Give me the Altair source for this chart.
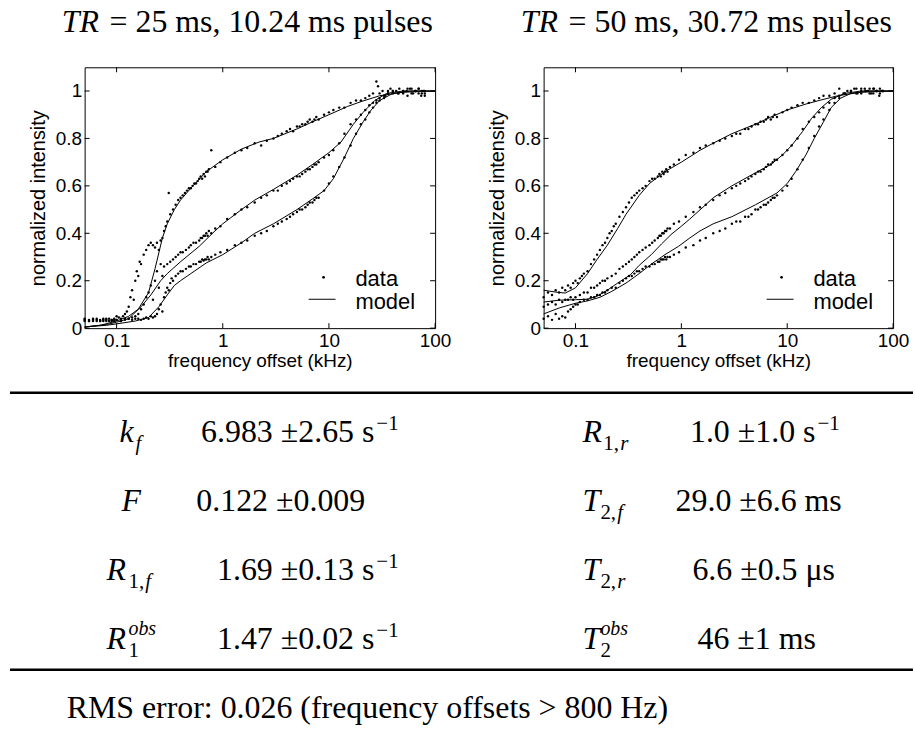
import altair as alt
import pandas as pd

SANS = "Liberation Sans"
SERIF = "Liberation Serif"

# ---------------- data ----------------
X_TICKS = [0.1, 1, 10, 100]
Y_TICKS = [0, 0.2, 0.4, 0.6, 0.8, 1]

# TR = 25 ms panel: measured points (frequency offset kHz, normalized intensity)
L_TOP = [(0.05,0.04),(0.055,0.035),(0.06,0.04),(0.065,0.04),(0.07,0.035),(0.075,0.04),(0.08,0.04),(0.085,0.04),(0.09,0.035),(0.095,0.04),(0.1,0.05),(0.105,0.045),(0.11,0.04),(0.115,0.05),(0.12,0.06),(0.125,0.07),(0.13,0.09),(0.135,0.13),(0.14,0.16),(0.145,0.12),(0.15,0.2),(0.155,0.24),(0.16,0.22),(0.165,0.28),(0.17,0.27),(0.18,0.31),(0.19,0.33),(0.2,0.35),(0.21,0.36),(0.22,0.35),(0.23,0.34),(0.24,0.36),(0.25,0.33),(0.26,0.37),(0.27,0.38),(0.28,0.41),(0.29,0.43),(0.3,0.45),(0.31,0.57),(0.32,0.48),(0.34,0.5),(0.36,0.52),(0.38,0.54),(0.4,0.55),(0.42,0.56),(0.44,0.57),(0.46,0.58),(0.48,0.59),(0.5,0.59),(0.52,0.6),(0.54,0.61),(0.56,0.61),(0.58,0.62),(0.6,0.63),(0.62,0.64),(0.64,0.63),(0.66,0.65),(0.68,0.64),(0.7,0.66),(0.72,0.66),(0.74,0.67),(0.78,0.75),(0.85,0.68),(0.95,0.7),(1.1,0.72),(1.3,0.74),(1.5,0.75),(1.7,0.76),(2.0,0.78),(2.3,0.77),(2.6,0.79),(3.0,0.8),(3.3,0.81),(3.6,0.82),(4.0,0.83),(4.3,0.84),(4.6,0.83),(5.0,0.85),(5.3,0.85),(5.6,0.86),(6.0,0.86),(6.3,0.87),(6.6,0.88),(7.0,0.87),(7.3,0.88),(7.6,0.89),(8.0,0.88),(9.0,0.9),(10,0.91),(11,0.92),(12.5,0.93),(14,0.93),(16,0.95),(18,0.96),(20,0.96),(22,0.97),(24,0.98),(26,0.99),(28,1.04),(29,1.02),(30,0.99),(32,1.0),(34,0.98),(36,1.0),(38,1.01),(40,0.99),(43,1.0),(46,1.01),(50,0.99),(54,1.0),(58,1.01),(62,0.99),(66,1.0),(70,1.01),(74,0.98),(78,1.0),(80,0.99)]
L_MID = [(0.05,0.035),(0.055,0.03),(0.06,0.035),(0.065,0.035),(0.07,0.03),(0.075,0.035),(0.08,0.035),(0.085,0.03),(0.09,0.035),(0.095,0.03),(0.1,0.035),(0.11,0.03),(0.12,0.04),(0.13,0.04),(0.14,0.045),(0.15,0.05),(0.16,0.06),(0.17,0.08),(0.18,0.1),(0.19,0.13),(0.2,0.15),(0.21,0.18),(0.22,0.12),(0.23,0.2),(0.24,0.24),(0.25,0.17),(0.26,0.27),(0.27,0.22),(0.28,0.26),(0.3,0.27),(0.32,0.28),(0.34,0.29),(0.36,0.3),(0.38,0.31),(0.4,0.32),(0.42,0.32),(0.45,0.33),(0.48,0.34),(0.5,0.35),(0.53,0.36),(0.56,0.36),(0.6,0.37),(0.62,0.38),(0.64,0.38),(0.66,0.39),(0.68,0.39),(0.7,0.4),(0.72,0.39),(0.74,0.41),(0.78,0.4),(0.85,0.42),(0.95,0.43),(1.1,0.46),(1.3,0.48),(1.5,0.5),(1.7,0.51),(2.0,0.53),(2.3,0.55),(2.6,0.56),(3.0,0.58),(3.3,0.58),(3.6,0.6),(4.0,0.61),(4.3,0.62),(4.6,0.63),(5.0,0.64),(5.3,0.64),(5.6,0.65),(6.0,0.66),(6.3,0.67),(6.6,0.67),(7.0,0.68),(7.3,0.69),(7.6,0.69),(8.0,0.7),(9.0,0.72),(10,0.73),(11,0.75),(12.5,0.78),(14,0.82),(16,0.86),(18,0.88),(20,0.9),(22,0.92),(24,0.94),(26,0.95),(28,0.96),(30,0.97),(33,0.98),(36,0.99),(40,1.0),(45,0.99),(50,1.0),(55,1.01),(60,0.99),(65,1.0),(70,1.01),(75,0.99),(80,1.0)]
L_BOT = [(0.05,0.03),(0.055,0.03),(0.06,0.03),(0.065,0.03),(0.07,0.03),(0.075,0.03),(0.08,0.03),(0.085,0.03),(0.09,0.03),(0.095,0.035),(0.1,0.035),(0.11,0.03),(0.12,0.035),(0.13,0.04),(0.14,0.035),(0.15,0.04),(0.16,0.04),(0.17,0.035),(0.18,0.04),(0.19,0.045),(0.2,0.04),(0.21,0.05),(0.22,0.045),(0.23,0.05),(0.24,0.06),(0.25,0.08),(0.26,0.1),(0.27,0.07),(0.28,0.13),(0.29,0.15),(0.3,0.17),(0.31,0.16),(0.32,0.19),(0.33,0.21),(0.34,0.2),(0.36,0.22),(0.38,0.23),(0.4,0.24),(0.42,0.24),(0.45,0.25),(0.48,0.26),(0.5,0.26),(0.53,0.27),(0.56,0.27),(0.6,0.28),(0.62,0.28),(0.64,0.29),(0.66,0.285),(0.68,0.29),(0.7,0.29),(0.72,0.3),(0.74,0.29),(0.78,0.3),(0.85,0.31),(0.95,0.32),(1.1,0.33),(1.3,0.35),(1.5,0.36),(1.7,0.37),(2.0,0.39),(2.3,0.4),(2.6,0.41),(3.0,0.43),(3.3,0.44),(3.6,0.45),(4.0,0.46),(4.3,0.47),(4.6,0.48),(5.0,0.49),(5.3,0.5),(5.6,0.5),(6.0,0.51),(6.3,0.52),(6.6,0.53),(7.0,0.53),(7.3,0.54),(7.6,0.55),(8.0,0.55),(9.0,0.58),(10,0.61),(11,0.64),(12.5,0.68),(14,0.72),(16,0.77),(18,0.82),(20,0.86),(22,0.88),(24,0.91),(26,0.93),(28,0.95),(30,0.96),(33,0.97),(36,0.99),(40,1.0),(45,0.99),(50,1.0),(55,0.98),(60,1.01),(65,1.0),(70,0.99),(75,1.0),(80,0.98)]

# TR = 25 ms panel: model curves
L_MODEL_TOP = [(0.05,0.005),(0.07,0.012),(0.1,0.03),(0.13,0.05),(0.16,0.08),(0.2,0.15),(0.23,0.25),(0.27,0.38),(0.3,0.44),(0.35,0.5),(0.4,0.54),(0.5,0.59),(0.7,0.66),(1.0,0.71),(1.5,0.755),(2.2,0.785),(3,0.8),(5,0.84),(7,0.87),(10,0.9),(15,0.935),(20,0.955),(30,0.98),(50,0.995),(100,1.0)]
L_MODEL_MID = [(0.05,0.005),(0.08,0.015),(0.1,0.025),(0.13,0.04),(0.17,0.09),(0.21,0.14),(0.26,0.2),(0.3,0.23),(0.4,0.28),(0.6,0.345),(0.8,0.4),(1.0,0.44),(1.5,0.5),(2.0,0.54),(3,0.585),(5,0.645),(7,0.69),(10,0.74),(13,0.785),(17,0.86),(21,0.91),(27,0.96),(35,0.99),(50,1.0),(100,1.0)]
L_MODEL_BOT = [(0.05,0.005),(0.08,0.012),(0.1,0.018),(0.15,0.03),(0.2,0.045),(0.25,0.09),(0.3,0.14),(0.35,0.18),(0.4,0.2),(0.5,0.23),(0.7,0.275),(1.0,0.31),(1.5,0.36),(2.0,0.4),(3,0.44),(5,0.5),(7,0.545),(9,0.58),(11,0.63),(14,0.72),(17,0.8),(21,0.87),(25,0.92),(30,0.96),(40,0.99),(60,1.0),(100,1.0)]

# TR = 50 ms panel: measured points
R_TOP = [(0.05,0.13),(0.055,0.15),(0.06,0.14),(0.065,0.16),(0.07,0.15),(0.075,0.17),(0.08,0.16),(0.085,0.18),(0.09,0.17),(0.095,0.19),(0.1,0.2),(0.105,0.19),(0.11,0.21),(0.115,0.22),(0.12,0.23),(0.13,0.24),(0.14,0.27),(0.15,0.29),(0.16,0.31),(0.17,0.33),(0.18,0.35),(0.19,0.36),(0.2,0.38),(0.21,0.4),(0.22,0.41),(0.23,0.43),(0.24,0.44),(0.26,0.47),(0.28,0.49),(0.3,0.51),(0.32,0.53),(0.34,0.55),(0.36,0.56),(0.38,0.57),(0.4,0.58),(0.43,0.59),(0.46,0.6),(0.5,0.62),(0.53,0.63),(0.56,0.63),(0.6,0.64),(0.62,0.65),(0.64,0.64),(0.66,0.66),(0.68,0.65),(0.7,0.66),(0.72,0.67),(0.74,0.66),(0.78,0.68),(0.85,0.69),(0.95,0.71),(1.1,0.73),(1.3,0.74),(1.5,0.76),(1.7,0.77),(2.0,0.78),(2.3,0.79),(2.6,0.8),(3.0,0.81),(3.3,0.82),(3.6,0.82),(4.0,0.84),(4.3,0.84),(4.6,0.85),(5.0,0.86),(5.3,0.86),(5.6,0.87),(6.0,0.87),(6.3,0.88),(6.6,0.89),(7.0,0.88),(7.3,0.89),(7.6,0.9),(8.0,0.89),(9.0,0.91),(10,0.92),(11,0.93),(12.5,0.94),(14,0.95),(16,0.95),(18,0.96),(20,0.97),(22,0.98),(25,0.98),(28,0.99),(31,1.01),(34,0.99),(37,1.0),(40,1.0),(43,1.01),(46,0.99),(50,1.0),(54,1.01),(58,1.0),(62,0.99),(66,1.01),(70,1.0),(74,0.98),(78,1.0),(80,1.0)]
R_MID = [(0.05,0.09),(0.055,0.1),(0.06,0.11),(0.065,0.1),(0.07,0.12),(0.075,0.11),(0.08,0.12),(0.085,0.12),(0.09,0.13),(0.095,0.12),(0.1,0.13),(0.11,0.14),(0.12,0.15),(0.13,0.15),(0.14,0.17),(0.15,0.17),(0.16,0.18),(0.17,0.19),(0.18,0.2),(0.19,0.2),(0.2,0.21),(0.22,0.22),(0.24,0.23),(0.26,0.25),(0.28,0.26),(0.3,0.27),(0.32,0.28),(0.34,0.29),(0.36,0.3),(0.38,0.31),(0.4,0.32),(0.43,0.33),(0.46,0.34),(0.5,0.35),(0.53,0.36),(0.56,0.37),(0.6,0.38),(0.62,0.39),(0.64,0.39),(0.66,0.4),(0.68,0.4),(0.7,0.41),(0.72,0.41),(0.74,0.42),(0.78,0.42),(0.85,0.44),(0.95,0.45),(1.1,0.47),(1.3,0.49),(1.5,0.51),(1.7,0.52),(2.0,0.54),(2.3,0.56),(2.6,0.57),(3.0,0.59),(3.3,0.6),(3.6,0.61),(4.0,0.62),(4.3,0.63),(4.6,0.64),(5.0,0.65),(5.3,0.66),(5.6,0.66),(6.0,0.67),(6.3,0.68),(6.6,0.69),(7.0,0.69),(7.3,0.7),(7.6,0.71),(8.0,0.71),(9.0,0.73),(10,0.75),(11,0.77),(12.5,0.8),(14,0.84),(16,0.87),(18,0.89),(20,0.91),(22,0.93),(25,0.95),(28,0.97),(31,0.98),(35,0.99),(40,1.0),(45,1.01),(50,0.99),(55,1.0),(60,1.01),(65,0.99),(70,1.0),(75,1.01),(80,1.0)]
R_BOT = [(0.05,0.04),(0.055,0.05),(0.06,0.035),(0.065,0.06),(0.07,0.04),(0.075,0.05),(0.08,0.045),(0.085,0.07),(0.09,0.08),(0.095,0.09),(0.1,0.1),(0.105,0.1),(0.11,0.11),(0.12,0.12),(0.13,0.12),(0.14,0.13),(0.15,0.13),(0.16,0.14),(0.17,0.14),(0.18,0.15),(0.19,0.15),(0.2,0.16),(0.22,0.17),(0.24,0.17),(0.26,0.19),(0.28,0.2),(0.3,0.21),(0.32,0.22),(0.34,0.22),(0.36,0.23),(0.38,0.24),(0.4,0.24),(0.43,0.25),(0.46,0.26),(0.5,0.26),(0.53,0.27),(0.56,0.27),(0.6,0.28),(0.62,0.28),(0.64,0.29),(0.66,0.29),(0.68,0.29),(0.7,0.3),(0.72,0.29),(0.74,0.3),(0.78,0.3),(0.85,0.31),(0.95,0.32),(1.1,0.34),(1.3,0.35),(1.5,0.37),(1.7,0.38),(2.0,0.4),(2.3,0.41),(2.6,0.42),(3.0,0.44),(3.3,0.45),(3.6,0.45),(4.0,0.47),(4.3,0.47),(4.6,0.48),(5.0,0.5),(5.3,0.5),(5.6,0.51),(6.0,0.52),(6.3,0.52),(6.6,0.53),(7.0,0.54),(7.3,0.55),(7.6,0.55),(8.0,0.56),(9.0,0.58),(10,0.6),(11,0.63),(12.5,0.67),(14,0.71),(16,0.76),(18,0.81),(20,0.85),(22,0.88),(25,0.92),(28,0.95),(31,0.97),(35,0.99),(40,1.0),(45,0.99),(50,1.01),(55,1.0),(60,0.99),(65,1.01),(70,1.0),(75,0.99),(80,1.0)]

# TR = 50 ms panel: model curves
R_MODEL_TOP = [(0.05,0.16),(0.065,0.152),(0.08,0.148),(0.1,0.17),(0.13,0.23),(0.16,0.29),(0.2,0.35),(0.25,0.42),(0.3,0.48),(0.4,0.56),(0.5,0.61),(0.7,0.66),(1.0,0.7),(1.5,0.75),(2.0,0.78),(3.0,0.82),(5,0.86),(7,0.89),(10,0.92),(15,0.945),(20,0.96),(30,0.98),(50,0.995),(100,1.0)]
R_MODEL_MID = [(0.05,0.11),(0.07,0.118),(0.1,0.12),(0.13,0.122),(0.16,0.135),(0.2,0.16),(0.25,0.19),(0.33,0.225),(0.4,0.265),(0.52,0.31),(0.65,0.355),(0.8,0.395),(1.0,0.43),(1.2,0.46),(1.6,0.51),(2.0,0.55),(3,0.6),(5,0.655),(7,0.69),(9,0.73),(11,0.77),(14,0.83),(17,0.885),(21,0.93),(26,0.965),(35,0.99),(50,1.0),(100,1.0)]
R_MODEL_BOT = [(0.05,0.06),(0.07,0.085),(0.1,0.105),(0.13,0.115),(0.17,0.13),(0.22,0.155),(0.3,0.19),(0.4,0.23),(0.52,0.27),(0.7,0.31),(0.94,0.345),(1.2,0.38),(1.5,0.41),(2.0,0.44),(3.0,0.47),(5,0.52),(8,0.57),(10,0.61),(12,0.66),(15,0.73),(18,0.8),(22,0.87),(26,0.93),(32,0.97),(40,0.99),(60,1.0),(100,1.0)]

TITLE_LEFT = ("TR", "= 25 ms, 10.24 ms pulses")
TITLE_RIGHT = ("TR", "= 50 ms, 30.72 ms pulses")
LEGEND_LABELS = ["data", "model"]

# fitted-parameter table
LEFT_SYM = ["k", "F", "R", "R"]
LEFT_SUBNUM = ["", "", "1,", "1"]
LEFT_SUBLET = ["f", "", "f", ""]
LEFT_SUP = ["", "", "", "obs"]
LEFT_VAL = ["6.983 ±2.65 s", "0.122 ±0.009", "1.69 ±0.13 s", "1.47 ±0.02 s"]
LEFT_EXP = ["−1", "", "−1", "−1"]
RIGHT_SYM = ["R", "T", "T", "T"]
RIGHT_SUBNUM = ["1,", "2,", "2,", "2"]
RIGHT_SUBLET = ["r", "f", "r", ""]
RIGHT_SUP = ["", "", "", "obs"]
RIGHT_VAL = ["1.0 ±1.0 s", "29.0 ±6.6 ms", "6.6 ±0.5 μs", "46 ±1 ms"]
RIGHT_EXP = ["−1", "", "", ""]
FOOTNOTE = "RMS error: 0.026 (frequency offsets > 800 Hz)"

# ---------------- layout (pixels) ----------------
H = 262
W_L, W_R = 352, 351


def to_df(sets):
    rows = []
    for name, lst in sets:
        for f, v in lst:
            rows.append({"series": name, "f": f, "v": v})
    return pd.DataFrame(rows)


def text_layer(txt, x, y, **kw):
    base = dict(baseline="alphabetic", color="black", align="left")
    base.update(kw)
    return alt.Chart(pd.DataFrame({"t": [txt]})).mark_text(**base).encode(
        text="t:N", x=alt.value(x), y=alt.value(y))


def panel(data_sets, model_sets, title, width):
    xs = alt.Scale(type="log", domain=[0.05, 100], nice=False)
    ys = alt.Scale(domain=[0, 1.1], nice=False, zero=False)
    xax = alt.Axis(values=X_TICKS, format="~g", title="frequency offset (kHz)",
                   ticks=False, domain=False, grid=False, labelFontSize=19,
                   labelPadding=3, labelFlush=False, labelOverlap=False,
                   labelFont=SANS, labelColor="black", titleFont=SANS,
                   titleFontSize=19, titleFontWeight="normal", titleColor="black",
                   titlePadding=2)
    yax = alt.Axis(values=Y_TICKS, format="~g", title="normalized intensity",
                   ticks=False, domain=False, grid=False, labelFontSize=19,
                   labelPadding=3, labelFlush=False, labelOverlap=False,
                   labelFont=SANS, labelColor="black", titleFont=SANS,
                   titleFontSize=20, titleFontWeight="normal", titleColor="black",
                   titlePadding=7)
    X = alt.X("f:Q", scale=xs, axis=xax)
    Y = alt.Y("v:Q", scale=ys, axis=yax)

    points = alt.Chart(to_df(data_sets)).mark_circle(
        size=6, color="black", opacity=1).encode(x=X, y=Y)
    lines = alt.Chart(to_df(model_sets)).mark_line(
        color="black", strokeWidth=1).encode(x=X, y=Y, detail="series:N")

    yt = pd.DataFrame({"v": Y_TICKS})
    xt = pd.DataFrame({"f": X_TICKS})
    tl = alt.Chart(yt).mark_rule(color="black", strokeWidth=1).encode(
        y=Y, x=alt.value(0), x2=alt.value(5))
    tr = alt.Chart(yt).mark_rule(color="black", strokeWidth=1).encode(
        y=Y, x=alt.value(width - 5), x2=alt.value(width))
    tb = alt.Chart(xt).mark_rule(color="black", strokeWidth=1).encode(
        x=X, y=alt.value(H - 5), y2=alt.value(H))
    tt = alt.Chart(xt).mark_rule(color="black", strokeWidth=1).encode(
        x=X, y=alt.value(0), y2=alt.value(5))

    one = pd.DataFrame({"a": [0]})
    leg_dot = alt.Chart(one).mark_circle(size=8, color="black", opacity=1).encode(
        x=alt.value(width - 112), y=alt.value(211))
    leg_line = alt.Chart(one).mark_rule(color="black", strokeWidth=1).encode(
        x=alt.value(width - 127), x2=alt.value(width - 100), y=alt.value(233))
    leg_t1 = text_layer(LEGEND_LABELS[0], width - 80, 220, font=SANS, fontSize=22)
    leg_t2 = text_layer(LEGEND_LABELS[1], width - 80, 243, font=SANS, fontSize=22)

    t_it = text_layer(title[0], -23, -35, font=SERIF, fontSize=32, fontStyle="italic")
    t_rm = text_layer(title[1], 25, -35, font=SERIF, fontSize=32)

    return alt.layer(lines, points, tl, tr, tb, tt, leg_dot, leg_line, leg_t1,
                     leg_t2, t_it, t_rm).properties(width=width, height=H)


left = panel([("a", L_TOP), ("b", L_MID), ("c", L_BOT)],
             [("a", L_MODEL_TOP), ("b", L_MODEL_MID), ("c", L_MODEL_BOT)],
             TITLE_LEFT, W_L)
right = panel([("a", R_TOP), ("b", R_MID), ("c", R_BOT)],
              [("a", R_MODEL_TOP), ("b", R_MODEL_MID), ("c", R_MODEL_BOT)],
              TITLE_RIGHT, W_R)

# ---------------- table ----------------
TW, TH = 832, 278
pieces = []  # (kind, text, xpx, row)
L_SYM_X = [118, 120, 105, 105]
L_SUB_X = [134, 0, 127, 127]
L_LET_X = [134, 0, 144, 0]
R_SYM_X = 583
R_SUB_X = [604, 601, 601, 601]
R_LET_X = [621, 618, 618, 0]
L_VAL_ANCHOR = [374, 280, 374, 374]
R_VAL_ANCHOR = [817, 760, 765, 758]
for i in range(4):
    r = i + 1
    pieces.append(("sym", LEFT_SYM[i], L_SYM_X[i], r))
    pieces.append(("sym", RIGHT_SYM[i], R_SYM_X, r))
    if LEFT_SUBNUM[i]:
        pieces.append(("subnum", LEFT_SUBNUM[i], L_SUB_X[i], r))
    if LEFT_SUBLET[i]:
        pieces.append(("sublet", LEFT_SUBLET[i], L_LET_X[i], r))
    if RIGHT_SUBNUM[i]:
        pieces.append(("subnum", RIGHT_SUBNUM[i], R_SUB_X[i], r))
    if RIGHT_SUBLET[i]:
        pieces.append(("sublet", RIGHT_SUBLET[i], R_LET_X[i], r))
    if LEFT_SUP[i]:
        pieces.append(("sup", LEFT_SUP[i], L_SUB_X[i], r))
    if RIGHT_SUP[i]:
        pieces.append(("sup", RIGHT_SUP[i], R_SUB_X[i], r))
    for val, exp, anc in ((LEFT_VAL[i], LEFT_EXP[i], L_VAL_ANCHOR[i]),
                          (RIGHT_VAL[i], RIGHT_EXP[i], R_VAL_ANCHOR[i])):
        if exp:
            pieces.append(("val_r", val, anc, r))
            pieces.append(("exp", exp, anc + 2, r))
        else:
            pieces.append(("val_c", val, anc, r))
pieces.append(("foot", FOOTNOTE, 65, 5))
tdf = pd.DataFrame(pieces, columns=["kind", "text", "xpx", "row"])

TX = alt.X("xpx:Q", scale=alt.Scale(domain=[83, 83 + TW], nice=False, zero=False), axis=None)
TY = alt.Y("row:Q", scale=alt.Scale(domain=[0.293, 4.303], reverse=True, nice=False, zero=False), axis=None)

STY = {
    "sym": dict(fontSize=32, fontStyle="italic", align="left", dy=0),
    "subnum": dict(fontSize=21, fontStyle="normal", align="left", dy=8),
    "sublet": dict(fontSize=21, fontStyle="italic", align="left", dy=8),
    "sup": dict(fontSize=20, fontStyle="italic", align="left", dy=-14),
    "val_r": dict(fontSize=32, fontStyle="normal", align="right", dy=0),
    "val_c": dict(fontSize=32, fontStyle="normal", align="center", dy=0),
    "exp": dict(fontSize=21, fontStyle="normal", align="left", dy=-12),
    "foot": dict(fontSize=32, fontStyle="normal", align="left", dy=0),
}
tlayers = []
for kind, st in STY.items():
    sub = tdf[tdf["kind"] == kind]
    tlayers.append(alt.Chart(sub).mark_text(
        font=SERIF, baseline="alphabetic", color="black", **st
    ).encode(x=TX, y=TY, text="text:N"))

one = pd.DataFrame({"a": [0]})
rule_top = alt.Chart(one).mark_rule(color="black", strokeWidth=2.5).encode(
    x=alt.value(-75), x2=alt.value(TW), y=alt.value(0))
rule_bot = alt.Chart(one).mark_rule(color="black", strokeWidth=2.5).encode(
    x=alt.value(-75), x2=alt.value(TW), y=alt.value(TH))

table = alt.layer(rule_top, rule_bot, *tlayers).properties(
    width=TW, height=TH, view=alt.ViewBackground(strokeOpacity=0))

top = alt.hconcat(left, right, spacing=109, bounds="flush")
# the nested row counts as zero height in a flush layout, so the gap below it
# spans the plot height (262) plus the 65 px between plot bottom and table rule
chart = alt.vconcat(top, table, spacing=327, bounds="flush").properties(
    padding={"left": 8, "top": 4, "right": 0, "bottom": 0}
).configure_view(stroke="black", strokeWidth=1)

chart.save("out.html", embed_options={"renderer": "svg", "actions": False})
